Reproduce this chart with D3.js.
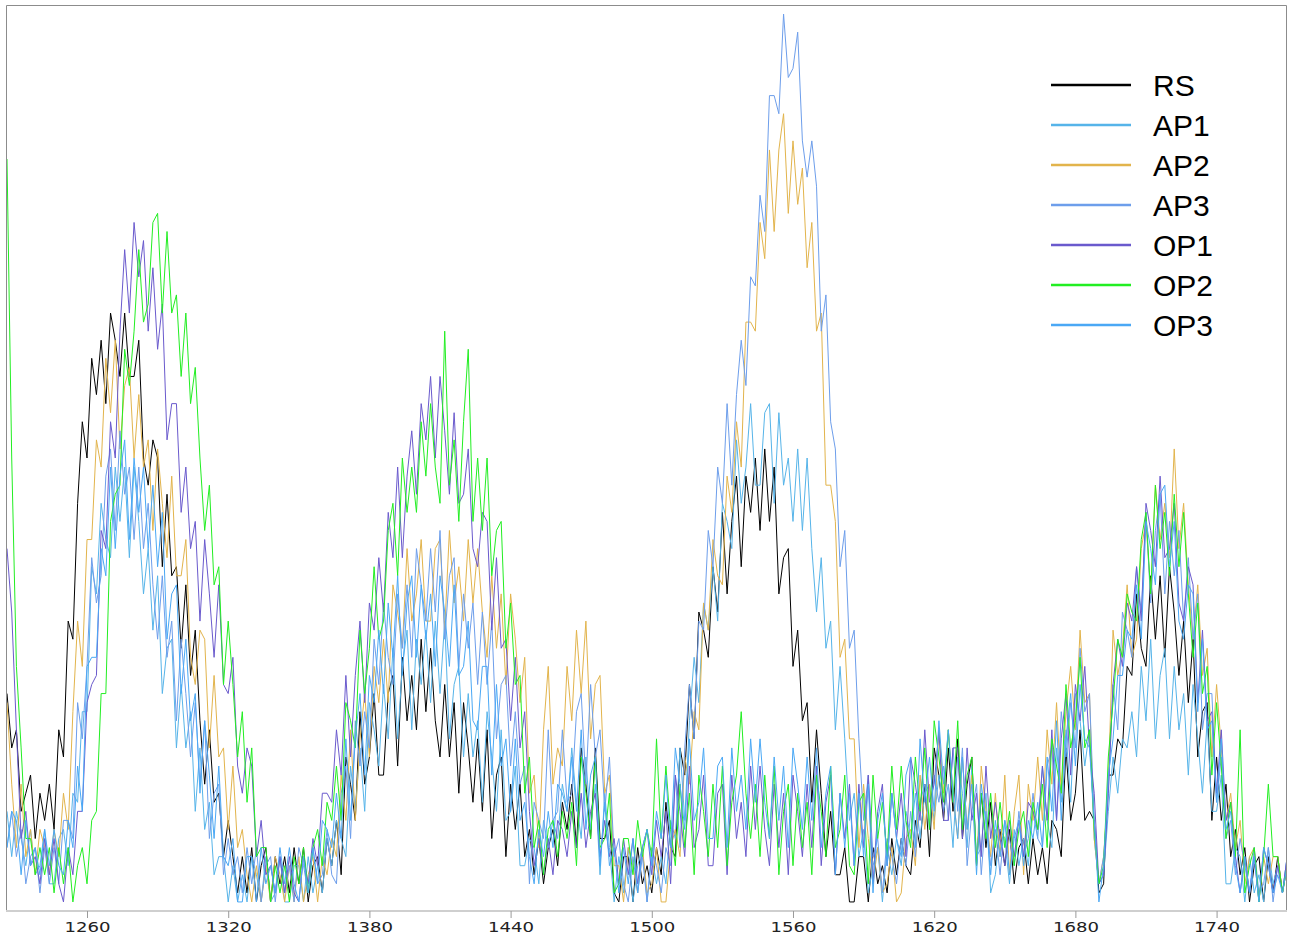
<!DOCTYPE html>
<html>
<head>
<meta charset="utf-8">
<script src="https://cdn.jsdelivr.net/npm/d3@7"></script>
<style>
  body { margin: 0; background: #ffffff; }
  svg { display: block; }
</style>
</head>
<body>
<svg id="SVG_CONTAINER" width="1290" height="936"></svg>
<script>
let d3 = window.d3;

// wavenumber of every reading (one reading every 2 units)
const wavenumbers = d3.range(1226, 1771, 2);
const xTicks = [1260, 1320, 1380, 1440, 1500, 1560, 1620, 1680, 1740];
const seriesNames = ["RS", "AP1", "AP2", "AP3", "OP1", "OP2", "OP3"];

// intensities (0 = bottom of the frame, 100 = top)
const RS = [
  24,18,20,11,13,15,8,13,10,14,   9,20,17,32,30,45,54,50,61,57,
  63,56,66,63,59,66,59,59,63,50,  47,52,50,38,46,37,38,29,36,26,
  31,21,14,20,12,13,6,10,6,2,     6,2,7,1,5,7,1,6,3,6,
  2,7,3,7,1,5,6,2,8,5,            10,4,17,14,10,22,14,17,24,15,
  15,24,26,16,28,21,26,20,30,22,  29,21,17,25,17,23,13,23,18,12,
  19,11,20,8,15,17,6,14,9,14,     6,9,4,8,3,7,9,5,12,9,
  14,7,18,14,8,18,8,8,10,2,       1,6,6,1,7,3,5,2,7,4,
  12,7,6,18,15,25,19,33,31,28,    38,33,44,35,43,48,38,48,44,50,
  42,51,43,49,35,39,40,27,31,21,  23,12,20,13,6,11,4,4,7,1,
  1,6,6,1,7,3,5,2,8,4,            8,5,4,10,7,14,6,18,15,10,
  18,11,19,8,14,17,5,13,7,12,     5,9,5,9,3,7,8,3,8,4,
  7,3,10,9,6,18,10,13,20,10,      11,10,2,3,15,15,19,18,27,26,
  35,29,27,37,30,37,28,38,33,26,  32,23,30,17,22,23,10,17,10,14,
  6,9,4,7,1,5,6,1,6,2,            6,2,5
];
const AP1 = [
  11,6,11,8,5,9,4,5,9,3,          3,8,9,5,13,12,22,22,38,35,
  45,41,39,49,43,49,39,49,43,35,  40,31,37,24,29,30,18,25,18,22,
  11,18,9,12,4,6,6,1,5,1,         4,1,6,4,1,6,1,2,6,1,
  1,5,5,1,6,2,5,2,8,5,            10,8,6,16,11,18,11,23,20,16,
  25,19,29,19,27,31,20,30,25,31,  23,32,24,32,19,25,27,17,24,17,
  21,12,22,17,11,20,10,11,16,5,   5,8,7,3,10,7,10,8,14,11,
  18,12,8,17,9,14,4,13,7,1,       6,2,7,1,5,7,1,6,3,6,
  3,10,8,18,10,21,28,23,34,31,    38,32,45,43,40,52,45,49,56,47,
  47,55,56,45,55,47,50,43,51,42,  50,40,33,39,29,32,20,27,19,10,
  13,6,9,2,5,7,1,7,4,8,           5,11,8,13,8,13,14,10,15,11,
  14,7,17,13,7,16,6,7,13,2,       4,9,8,3,9,5,8,5,11,8,
  16,10,7,18,12,20,12,24,21,16,   20,8,3,4,11,17,13,19,18,22,
  17,27,21,30,19,26,29,19,27,20,  24,15,25,19,13,21,11,11,15,3,
  3,7,6,1,6,2,4,1,7,3,            5,2,6
];
const AP2 = [
  23,14,7,14,6,9,4,9,7,4,         9,6,13,9,22,32,27,41,41,52,
  49,61,55,63,51,58,60,50,57,49,  52,42,51,45,39,48,37,37,41,28,
  25,31,30,18,26,17,18,9,16,7,    9,4,1,5,1,5,1,6,4,1,
  5,1,6,1,4,6,1,6,4,8,            6,15,10,20,10,19,24,17,27,23,
  30,23,36,33,29,40,32,35,41,32,  32,40,41,31,42,34,38,32,41,34,
  40,33,28,37,29,35,25,35,30,23,  28,13,15,7,20,27,14,18,16,27,
  21,31,24,32,19,25,26,13,15,5,   5,1,7,5,2,7,2,3,7,1,
  1,7,9,6,17,14,22,20,34,31,      41,37,36,48,44,54,49,65,65,64,
  76,72,84,75,84,88,77,85,78,82,  71,76,64,66,47,47,43,28,30,19,
  19,7,14,8,3,7,2,3,7,1,          2,8,9,5,15,9,14,9,20,13,
  20,13,8,17,9,15,5,16,11,6,      13,6,15,4,11,15,4,14,10,17,
  10,20,14,23,13,22,27,20,31,23,  24,8,3,6,14,31,26,29,36,28,
  30,40,43,35,47,41,45,39,51,40,  45,36,30,36,26,29,17,25,18,10,
  13,7,10,3,6,7,1,6,3,6,          6,2,5
];
const AP3 = [
  7,11,6,9,3,6,7,2,7,3,           7,3,10,10,8,23,19,27,39,34,
  37,48,51,42,53,46,49,41,49,40,  45,36,30,37,28,32,21,30,24,17,
  23,14,21,8,13,14,4,8,4,6,       2,7,3,7,1,5,6,1,6,2,
  5,1,7,5,2,7,3,4,9,4,            3,13,16,8,21,16,22,18,30,25,
  34,28,25,35,29,36,28,40,36,32,  40,33,42,30,37,39,27,35,29,34,
  25,33,25,32,19,25,26,16,22,14,  16,3,12,10,8,20,10,11,20,12,
  13,22,24,14,25,17,20,11,17,6,   8,3,1,6,2,6,1,7,5,2,
  7,5,15,7,18,25,19,32,31,42,     38,49,45,56,47,57,63,58,70,69,
  79,75,90,90,88,99,92,93,97,85,  81,85,80,64,68,54,51,38,42,29,
  31,19,10,15,6,8,2,8,6,3,        8,5,11,6,12,14,9,15,12,16,
  10,18,11,18,5,11,14,4,11,5,     9,4,10,8,5,11,6,8,13,8,
  7,16,18,10,22,17,23,18,29,22,   24,10,3,6,13,25,20,33,31,28,
  38,33,44,34,42,46,35,43,37,42,  32,39,30,35,20,24,24,12,17,8,
  10,4,8,5,2,7,2,3,7,1,           5,2,6
];
const OP1 = [
  40,33,20,8,11,5,6,3,8,4,        8,3,1,7,4,11,11,23,25,26,
  42,40,54,50,64,73,66,76,70,74,  64,71,62,67,52,56,56,44,49,40,
  43,32,41,35,28,36,25,24,28,16,  13,18,16,6,10,4,5,2,6,2,
  6,2,1,6,3,8,5,13,13,12,         20,15,26,17,26,32,23,34,31,39,
  33,44,39,49,39,48,53,46,56,52,  59,50,59,53,46,55,45,46,51,40,
  38,44,43,31,39,29,30,21,28,18,  22,11,5,8,4,8,4,10,9,6,
  11,7,13,7,11,13,6,10,6,8,       3,8,4,8,3,7,9,4,10,6,
  11,3,15,11,6,16,7,9,15,5,       5,13,14,4,15,8,12,6,16,9,
  16,9,5,14,7,13,4,15,11,6,       14,7,16,5,12,15,4,13,8,14,
  5,14,7,15,3,11,14,5,13,8,       13,6,17,14,10,20,12,14,20,10,
  10,18,18,8,18,10,13,6,16,8,     12,8,5,10,6,10,6,12,11,9,
  16,10,20,10,19,24,15,25,21,27,  18,13,3,4,13,25,30,27,34,32,
  38,32,45,42,38,48,39,40,45,34,  32,38,36,23,31,21,22,13,20,10,
  12,6,2,6,2,6,1,7,5,2,           5,2,6
];
const OP2 = [
  83,50,27,18,8,8,4,7,4,7,        2,7,3,7,1,5,7,3,10,11,
  24,24,43,46,47,62,58,64,73,65,  67,76,77,66,75,66,68,59,66,56,
  60,50,42,47,36,38,25,32,25,17,  22,12,18,6,7,7,1,5,2,5,
  1,6,3,7,2,7,9,5,12,10,          16,10,23,21,18,31,24,29,38,30,
  32,42,45,37,50,44,49,44,54,48,  56,49,45,64,47,52,43,54,62,43,
  50,42,50,37,42,43,29,34,25,26,  13,17,7,10,4,9,10,6,11,8,
  12,5,17,13,8,17,7,8,13,2,       3,8,8,4,10,6,9,6,19,8,
  16,9,5,14,7,13,4,15,11,6,       14,7,16,5,12,15,22,13,8,14,
  6,15,8,16,4,11,14,5,13,7,       12,4,15,11,6,16,7,9,15,5,
  4,12,13,3,15,8,12,6,16,9,       16,10,7,17,11,18,9,21,17,12,
  20,12,21,9,15,17,5,13,8,13,     7,12,7,11,5,9,11,6,12,9,
  14,7,19,16,13,25,18,21,28,18,   20,9,3,5,17,23,30,28,35,33,
  32,41,44,35,47,40,44,37,46,38,  44,35,28,34,24,27,15,23,16,8,
  12,6,20,2,5,7,1,6,14,6,         6,2,5
];
const OP3 = [
  7,11,10,4,10,5,7,4,9,5,         9,5,4,10,7,16,11,27,28,28,
  40,37,49,40,48,52,41,50,44,49,  40,47,38,44,30,35,36,24,30,21,
  24,13,21,15,8,16,6,5,8,1,       1,6,6,1,7,3,5,2,7,3,
  7,3,1,6,2,7,3,10,9,7,           13,8,19,10,19,24,15,26,23,31,
  24,34,28,37,26,34,37,28,36,30,  35,27,37,33,27,36,26,27,32,21,
  20,27,27,15,25,16,19,11,19,10,  12,6,3,9,6,11,7,14,13,11,
  17,11,20,9,15,17,5,12,5,7,      2,7,3,8,2,7,9,5,11,8,
  15,7,18,14,9,19,10,12,18,8,     8,16,17,7,18,11,15,9,19,12,
  19,12,8,17,10,16,7,18,14,9,     17,10,18,7,13,16,4,13,7,13,
  5,13,6,14,2,10,13,5,13,8,       6,15,17,7,19,12,17,11,21,14,
  20,13,8,17,9,14,4,14,10,4,      10,6,10,4,8,10,5,10,8,12,
  7,17,11,21,10,19,24,16,25,19,   18,10,1,5,15,19,26,26,31,30,
  36,30,43,40,36,46,47,38,43,32,  30,36,35,22,30,20,21,12,19,9,
  11,5,2,6,2,6,1,7,5,2,           4,2,5
];

const seriesValues = [RS, AP1, AP2, AP3, OP1, OP2, OP3];
const seriesColors = ["#000000", "#56b4e9", "#e2b44c", "#6d9eeb", "#6a5acd", "#22ee22", "#4aa8f5"];

// frame of the plot, in pixels
const FRAME = {
  "LEFT": 7,
  "RIGHT": 1286,
  "TOP": 5,
  "BOTTOM": 911,
};

let svg = d3.select("#SVG_CONTAINER");

let xScale = d3.scaleLinear()
    .domain([1226, 1769.5])
    .range([FRAME.LEFT, FRAME.RIGHT]);

let yScale = d3.scaleLinear()
    .domain([0, 100])
    .range([FRAME.BOTTOM, FRAME.TOP]);

// clip so the lines stay inside the frame
svg.append("clipPath")
    .attr("id", "plotClip")
  .append("rect")
    .attr("x", FRAME.LEFT)
    .attr("y", FRAME.TOP)
    .attr("width", FRAME.RIGHT - FRAME.LEFT)
    .attr("height", FRAME.BOTTOM - FRAME.TOP);

// frame: top, left and right edges
svg.append("path")
    .attr("d", "M" + (FRAME.LEFT - 0.5) + "," + FRAME.BOTTOM +
               "V" + (FRAME.TOP + 0.5) +
               "H" + (FRAME.RIGHT + 0.5) +
               "V" + FRAME.BOTTOM)
    .attr("fill", "none")
    .attr("stroke", "#8c8c8c")
    .attr("stroke-width", 1);

// spectra
let line = d3.line()
    .x((d, i) => xScale(wavenumbers[i]))
    .y(d => yScale(d));

let chart = svg.append("g")
    .attr("clip-path", "url(#plotClip)");

chart.selectAll("path.spectrum")
    .data(seriesValues)
    .join("path")
      .attr("class", "spectrum")
      .attr("d", d => line(d.slice(0, wavenumbers.length)))
      .attr("fill", "none")
      .attr("stroke", (d, i) => seriesColors[i])
      .attr("stroke-width", 1)
      .attr("stroke-linejoin", "round");

// x axis
let xAxis = d3.axisBottom(xScale)
    .tickValues(xTicks)
    .tickSize(7)
    .tickPadding(4)
    .tickFormat(d3.format("d"));

let axisG = svg.append("g")
    .attr("transform", "translate(0," + FRAME.BOTTOM + ")")
    .call(xAxis);

axisG.select(".domain")
    .attr("d", "M" + (FRAME.LEFT - 1) + ",0H" + (FRAME.RIGHT + 1))
    .attr("stroke", "#cfcfcf")
    .attr("stroke-width", 2);

axisG.selectAll(".tick line")
    .attr("stroke", "#9a9a9a");

axisG.selectAll(".tick text")
    .attr("fill", "#222222")
    .attr("font-family", "'DejaVu Sans', Verdana, sans-serif")
    .attr("font-size", 14)
    .attr("textLength", 46)
    .attr("lengthAdjust", "spacingAndGlyphs");

// legend
let legend = svg.append("g")
    .attr("class", "legend");

let legendItems = legend.selectAll("g")
    .data(seriesNames)
    .join("g")
      .attr("transform", (d, i) => "translate(0," + (85 + i * 40) + ")");

legendItems.append("line")
    .attr("x1", 1051)
    .attr("x2", 1131)
    .attr("stroke", (d, i) => seriesColors[i])
    .attr("stroke-width", 2.5);

legendItems.append("text")
    .attr("x", 1153)
    .attr("y", 10.5)
    .text(d => d)
    .attr("fill", "#000000")
    .attr("font-family", "'Liberation Sans', Arial, sans-serif")
    .attr("font-size", 30);
</script>
</body>
</html>
